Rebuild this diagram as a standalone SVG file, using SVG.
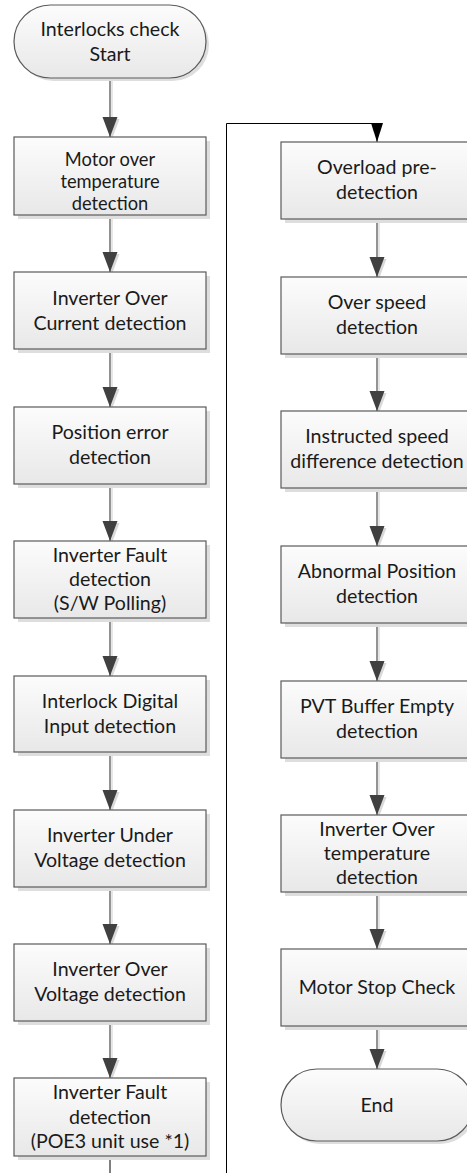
<svg xmlns="http://www.w3.org/2000/svg" width="467" height="1173" viewBox="0 0 467 1173">
<defs>
<linearGradient id="g" x1="0" y1="0" x2="0" y2="1">
<stop offset="0" stop-color="#fcfcfc"/>
<stop offset="1" stop-color="#e8e8e8"/>
</linearGradient>
<marker id="ah" viewBox="0 0 20 16" refX="20" refY="8" markerWidth="20" markerHeight="16" markerUnits="userSpaceOnUse" orient="auto">
<path d="M0,0.5 L20,8 L0,15.5 Z" fill="#404040"/>
</marker>
<marker id="ahs" viewBox="0 0 20 16" refX="20" refY="8" markerWidth="20" markerHeight="16" markerUnits="userSpaceOnUse" orient="auto">
<path d="M0,0.5 L20,8 L0,15.5 Z" fill="#d9d9d9"/>
</marker>
<marker id="ahb" viewBox="0 0 19 12" refX="19" refY="6" markerWidth="19" markerHeight="12" markerUnits="userSpaceOnUse" orient="auto">
<path d="M0,0 L19,6 L0,12 Z" fill="#000"/>
</marker>
</defs>
<style>
.box{fill:url(#g);stroke:#5a5a5a;stroke-width:1.2}
.sh{fill:#dedede}
.t{font-family:Lato,"Open Sans","Liberation Sans",sans-serif;font-size:19.6px;fill:#1a1a1a;text-anchor:middle}
.t.tc{font-size:18.3px}
.c{fill:none;stroke:#5a5a5a;stroke-width:1.3}
.cs{fill:none;stroke:#d9d9d9;stroke-width:1.3}
.loop{fill:none;stroke:#000;stroke-width:1}
</style>

<g id="connectors">
<g transform="translate(2,2)">
<path class="cs" d="M110,78 V137" marker-end="url(#ahs)"/>
<path class="cs" d="M110,215 V272" marker-end="url(#ahs)"/>
<path class="cs" d="M110,349 V407" marker-end="url(#ahs)"/>
<path class="cs" d="M110,484 V541" marker-end="url(#ahs)"/>
<path class="cs" d="M110,618 V676" marker-end="url(#ahs)"/>
<path class="cs" d="M110,752 V810" marker-end="url(#ahs)"/>
<path class="cs" d="M110,887 V944" marker-end="url(#ahs)"/>
<path class="cs" d="M110,1021 V1078" marker-end="url(#ahs)"/>
<path class="cs" d="M377,219 V277" marker-end="url(#ahs)"/>
<path class="cs" d="M377,354 V411" marker-end="url(#ahs)"/>
<path class="cs" d="M377,488 V546" marker-end="url(#ahs)"/>
<path class="cs" d="M377,623 V681" marker-end="url(#ahs)"/>
<path class="cs" d="M377,758 V815" marker-end="url(#ahs)"/>
<path class="cs" d="M377,892 V949" marker-end="url(#ahs)"/>
<path class="cs" d="M377,1026 V1069" marker-end="url(#ahs)"/>
</g>
<path class="c" d="M110,78 V137" marker-end="url(#ah)"/>
<path class="c" d="M110,215 V272" marker-end="url(#ah)"/>
<path class="c" d="M110,349 V407" marker-end="url(#ah)"/>
<path class="c" d="M110,484 V541" marker-end="url(#ah)"/>
<path class="c" d="M110,618 V676" marker-end="url(#ah)"/>
<path class="c" d="M110,752 V810" marker-end="url(#ah)"/>
<path class="c" d="M110,887 V944" marker-end="url(#ah)"/>
<path class="c" d="M110,1021 V1078" marker-end="url(#ah)"/>
<path class="c" d="M377,219 V277" marker-end="url(#ah)"/>
<path class="c" d="M377,354 V411" marker-end="url(#ah)"/>
<path class="c" d="M377,488 V546" marker-end="url(#ah)"/>
<path class="c" d="M377,623 V681" marker-end="url(#ah)"/>
<path class="c" d="M377,758 V815" marker-end="url(#ah)"/>
<path class="c" d="M377,892 V949" marker-end="url(#ah)"/>
<path class="c" d="M377,1026 V1069" marker-end="url(#ah)"/>
<path class="loop" d="M110,1156 V1190 H226.5 V123.5 H377 V142" marker-end="url(#ahb)"/>
</g>

<g id="start">
<rect class="sh" x="17" y="8" width="192" height="73" rx="36.5"/>
<rect class="box" x="14" y="5" width="192" height="73" rx="36.5"/>
<text class="t" x="110" y="36">Interlocks check</text>
<text class="t" x="110" y="61">Start</text>
</g>

<g id="n1">
<rect class="sh" x="18" y="141" width="192" height="78"/>
<rect class="box" x="14" y="137" width="192" height="78"/>
<text class="t tc" x="110" y="165.5">Motor over</text>
<text class="t tc" x="110" y="187.5">temperature</text>
<text class="t tc" x="110" y="209.5">detection</text>
</g>

<g id="n2">
<rect class="sh" x="18" y="276" width="192" height="77"/>
<rect class="box" x="14" y="272" width="192" height="77"/>
<text class="t" x="110" y="305">Inverter Over</text>
<text class="t" x="110" y="330">Current detection</text>
</g>

<g id="n3">
<rect class="sh" x="18" y="411" width="192" height="77"/>
<rect class="box" x="14" y="407" width="192" height="77"/>
<text class="t" x="110" y="439">Position error</text>
<text class="t" x="110" y="464">detection</text>
</g>

<g id="n4">
<rect class="sh" x="18" y="545" width="192" height="77"/>
<rect class="box" x="14" y="541" width="192" height="77"/>
<text class="t" x="110" y="562">Inverter Fault</text>
<text class="t" x="110" y="586">detection</text>
<text class="t" x="110" y="610">(S/W Polling)</text>
</g>

<g id="n5">
<rect class="sh" x="18" y="680" width="192" height="76"/>
<rect class="box" x="14" y="676" width="192" height="76"/>
<text class="t" x="110" y="708">Interlock Digital</text>
<text class="t" x="110" y="733">Input detection</text>
</g>

<g id="n6">
<rect class="sh" x="18" y="814" width="192" height="77"/>
<rect class="box" x="14" y="810" width="192" height="77"/>
<text class="t" x="110" y="842">Inverter Under</text>
<text class="t" x="110" y="867">Voltage detection</text>
</g>

<g id="n7">
<rect class="sh" x="18" y="948" width="192" height="77"/>
<rect class="box" x="14" y="944" width="192" height="77"/>
<text class="t" x="110" y="976">Inverter Over</text>
<text class="t" x="110" y="1001">Voltage detection</text>
</g>

<g id="n8">
<rect class="sh" x="18" y="1082" width="192" height="78"/>
<rect class="box" x="14" y="1078" width="192" height="78"/>
<text class="t" x="110" y="1099">Inverter Fault</text>
<text class="t" x="110" y="1124">detection</text>
<text class="t" x="110" y="1148">(POE3 unit use *1)</text>
</g>

<g id="r1">
<rect class="sh" x="285" y="146" width="192" height="77"/>
<rect class="box" x="281" y="142" width="192" height="77"/>
<text class="t" x="377" y="174">Overload pre-</text>
<text class="t" x="377" y="199">detection</text>
</g>

<g id="r2">
<rect class="sh" x="285" y="281" width="192" height="77"/>
<rect class="box" x="281" y="277" width="192" height="77"/>
<text class="t" x="377" y="309">Over speed</text>
<text class="t" x="377" y="334">detection</text>
</g>

<g id="r3">
<rect class="sh" x="285" y="415" width="192" height="77"/>
<rect class="box" x="281" y="411" width="192" height="77"/>
<text class="t" x="377" y="443">Instructed speed</text>
<text class="t" x="377" y="468">difference detection</text>
</g>

<g id="r4">
<rect class="sh" x="285" y="550" width="192" height="77"/>
<rect class="box" x="281" y="546" width="192" height="77"/>
<text class="t" x="377" y="578">Abnormal Position</text>
<text class="t" x="377" y="603">detection</text>
</g>

<g id="r5">
<rect class="sh" x="285" y="685" width="192" height="77"/>
<rect class="box" x="281" y="681" width="192" height="77"/>
<text class="t" x="377" y="713">PVT Buffer Empty</text>
<text class="t" x="377" y="738">detection</text>
</g>

<g id="r6">
<rect class="sh" x="285" y="819" width="192" height="77"/>
<rect class="box" x="281" y="815" width="192" height="77"/>
<text class="t" x="377" y="836">Inverter Over</text>
<text class="t" x="377" y="860">temperature</text>
<text class="t" x="377" y="884">detection</text>
</g>

<g id="r7">
<rect class="sh" x="285" y="953" width="192" height="77"/>
<rect class="box" x="281" y="949" width="192" height="77"/>
<text class="t" x="377" y="994">Motor Stop Check</text>
</g>

<g id="end">
<rect class="sh" x="284" y="1072" width="192" height="72" rx="36"/>
<rect class="box" x="281" y="1069" width="192" height="72" rx="36"/>
<text class="t" x="377" y="1112">End</text>
</g>
</svg>
